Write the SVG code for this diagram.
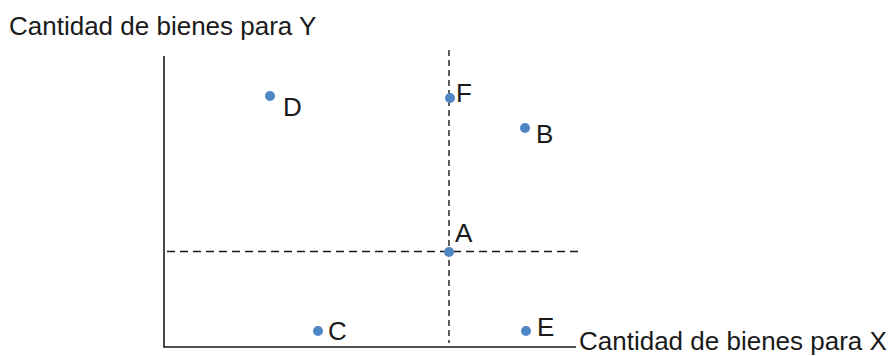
<svg xmlns="http://www.w3.org/2000/svg" width="889" height="356" viewBox="0 0 889 356">
<style>
text{font-family:"Liberation Sans",Arial,sans-serif;font-size:26px;fill:#1a1a1a}
.axis{stroke:#1a1a1a;stroke-width:1.6;fill:none}
.dash{stroke:#1a1a1a;stroke-width:1.4;fill:none}
.pt{fill:#4f87c5}
</style>
<rect width="889" height="356" fill="#ffffff"/>
<g id="connectors">
<line class="dash" x1="167" y1="251.5" x2="582" y2="251.5" stroke-dasharray="8 5"/>
<line class="dash" x1="449" y1="50" x2="449" y2="343" stroke-dasharray="6 4"/>
<polyline class="axis" points="164,56 164,347 576,347"/>
</g>
<g id="title-y"><text x="9" y="35">Cantidad de bienes para Y</text></g>
<g id="title-x"><text x="579" y="350">Cantidad de bienes para X</text></g>
<g id="D"><circle class="pt" cx="270" cy="96" r="5"/><text x="283" y="116">D</text></g>
<g id="F"><circle class="pt" cx="450" cy="98" r="5"/><text x="456" y="102">F</text></g>
<g id="B"><circle class="pt" cx="525" cy="128" r="5"/><text x="536" y="143">B</text></g>
<g id="A"><circle class="pt" cx="449" cy="252" r="5"/><text x="455" y="242">A</text></g>
<g id="C"><circle class="pt" cx="318" cy="331" r="5"/><text x="328" y="340">C</text></g>
<g id="E"><circle class="pt" cx="526" cy="331" r="5"/><text x="537" y="336">E</text></g>
</svg>
